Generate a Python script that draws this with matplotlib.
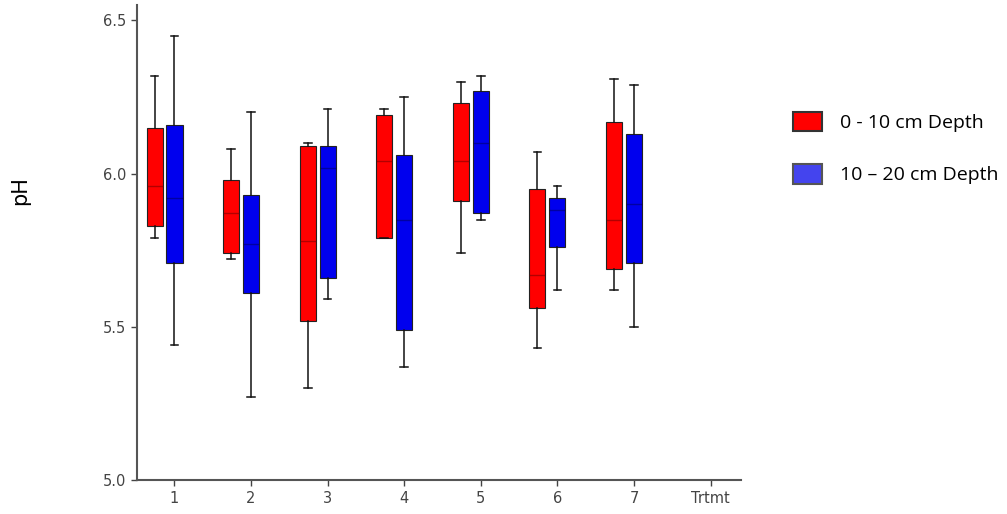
import matplotlib
matplotlib.use("Agg")
import matplotlib.pyplot as plt
from matplotlib.patches import Patch

# DATA
treatments = [1, 2, 3, 4, 5, 6, 7]
tick_labels = ["1", "2", "3", "4", "5", "6", "7", "Trtmt"]

# 0 - 10 cm depth: whisker low, q1, median, q3, whisker high
shallow_low = [5.79, 5.72, 5.30, 5.79, 5.74, 5.43, 5.62]
shallow_q1 = [5.83, 5.74, 5.52, 5.79, 5.91, 5.56, 5.69]
shallow_med = [5.96, 5.87, 5.78, 6.04, 6.04, 5.67, 5.85]
shallow_q3 = [6.15, 5.98, 6.09, 6.19, 6.23, 5.95, 6.17]
shallow_high = [6.32, 6.08, 6.10, 6.21, 6.30, 6.07, 6.31]

# 10 - 20 cm depth
deep_low = [5.44, 5.27, 5.59, 5.37, 5.85, 5.62, 5.50]
deep_q1 = [5.71, 5.61, 5.66, 5.49, 5.87, 5.76, 5.71]
deep_med = [5.92, 5.77, 6.02, 5.85, 6.10, 5.88, 5.90]
deep_q3 = [6.16, 5.93, 6.09, 6.06, 6.27, 5.92, 6.13]
deep_high = [6.45, 6.20, 6.21, 6.25, 6.32, 5.96, 6.29]

legend_labels = ["0 - 10 cm Depth", "10 \u2013 20 cm Depth"]
red = "#ff0000"
blue = "#0000ee"


def make_stats(low, q1, med, q3, high):
    return [dict(whislo=a, q1=b, med=c, q3=d, whishi=e, fliers=[])
            for a, b, c, d, e in zip(low, q1, med, q3, high)]


fig = plt.figure(figsize=(10.07, 5.14), dpi=100)
ax = fig.add_axes([0.136, 0.066, 0.600, 0.924])

width = 0.21
offset = -0.26
groups = [
    (make_stats(shallow_low, shallow_q1, shallow_med, shallow_q3, shallow_high),
     [t + offset for t in treatments], red, "#800000"),
    (make_stats(deep_low, deep_q1, deep_med, deep_q3, deep_high),
     treatments, blue, "#000070"),
]
for stats, pos, col, medcol in groups:
    ax.bxp(stats, positions=pos, widths=width, patch_artist=True,
           showfliers=False, manage_ticks=False,
           boxprops=dict(facecolor=col, edgecolor="#222222", linewidth=0.8),
           medianprops=dict(color=medcol, linewidth=1, alpha=0.6),
           whiskerprops=dict(color="#111111", linewidth=1.1),
           capprops=dict(color="#111111", linewidth=1.1),
           capwidths=0.1)

ax.set_xlim(0.51, 8.4)
ax.set_ylim(5.0, 6.55)
ax.set_xticks(range(1, len(tick_labels) + 1))
ax.set_xticklabels(tick_labels)
ax.set_yticks([5.0, 5.5, 6.0, 6.5])
ax.set_yticklabels(["5.0", "5.5", "6.0", "6.5"])
ax.tick_params(colors="#444444", labelsize=10.5, length=4, width=1)
ax.tick_params(axis="x", pad=4)

for side in ["top", "right"]:
    ax.spines[side].set_visible(False)
for side in ["left", "bottom"]:
    ax.spines[side].set_color("#555555")
    ax.spines[side].set_linewidth(1.5)

fig.text(0.02, 0.63, "pH", rotation=90, fontsize=15, ha="center", va="center",
         family="DejaVu Sans")

handles = [Patch(facecolor=red, edgecolor="#333333", linewidth=1.5),
           Patch(facecolor="#4444ee", edgecolor="#555555", linewidth=1.5)]
fig.legend(handles, legend_labels, loc="upper left",
           bbox_to_anchor=(0.770, 0.817), frameon=False,
           prop=dict(family="Open Sans", size=14),
           handlelength=1.5, handleheight=1.2, labelspacing=1.63,
           handletextpad=0.9)

fig.savefig("out.png", dpi=100, facecolor="white")
